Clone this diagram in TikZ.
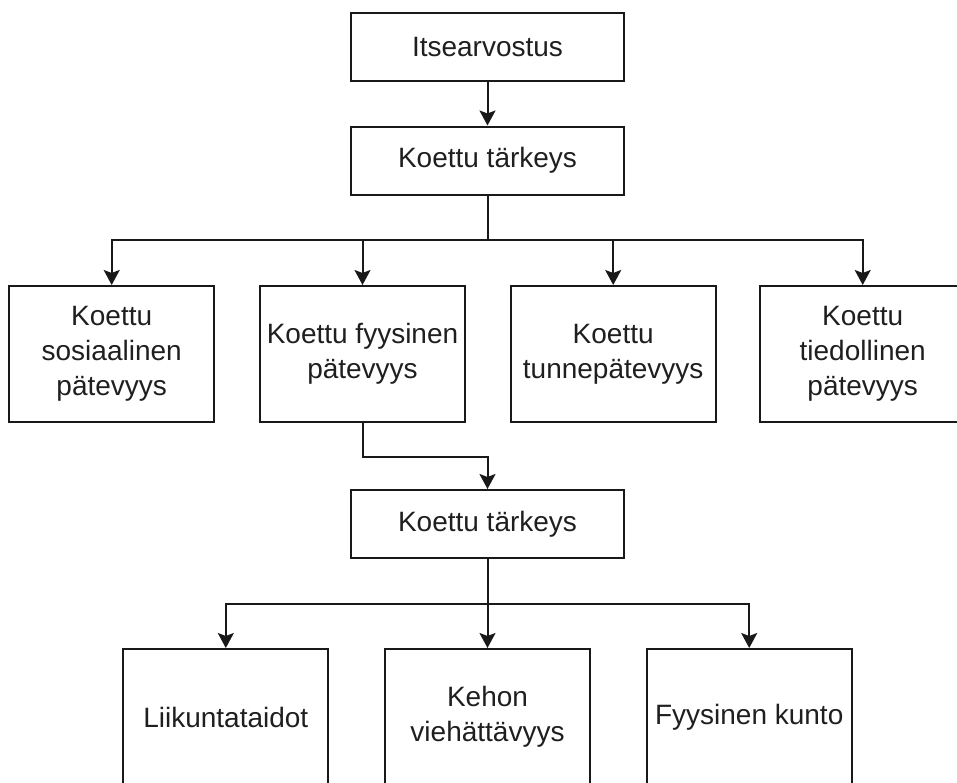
\documentclass[tikz,border=0pt]{standalone}
\usepackage{fontspec}
\setmainfont{Liberation Sans}
\usetikzlibrary{arrows.meta}
\begin{document}
\begin{tikzpicture}[x=1pt,y=-1pt,
 box/.style={draw=black!90,line width=2pt,minimum width=205pt,minimum height=136pt,align=center,inner sep=0pt,font=\fontsize{28}{35}\selectfont,text=black!88},
 topbox/.style={box,minimum width=273pt,minimum height=68pt},
 arr/.style={draw=black!90,line width=2pt,-{Stealth[length=15pt,width=16pt,inset=3pt]}},
 ln/.style={draw=black!90,line width=2pt}]
\useasboundingbox (0,0) rectangle (957,782);
\node[topbox] (self) at (487.5,47) {Itsearvostus};
\node[topbox] (imp1) at (487.5,160.5) {Koettu tärkeys};
\node[box] (soc) at (111.7,354) {Koettu\\sosiaalinen\\pätevyys};
\node[box] (phys) at (362.5,354) {Koettu fyysinen\\pätevyys};
\node[box] (emo) at (613.2,354) {Koettu\\tunnepätevyys};
\node[box] (cog) at (862.7,354) {Koettu\\tiedollinen\\pätevyys};
\node[topbox] (imp2) at (487.5,524) {Koettu tärkeys};
\node[box] (motor) at (225.8,717) {Liikuntataidot};
\node[box] (body) at (487.5,717) {Kehon\\viehättävyys};
\node[box] (fit) at (749.2,717) {Fyysinen kunto};
\coordinate (bus1) at (487.5,240);
\coordinate (bus2) at (487.5,604);
\draw[arr] (self) -- (imp1);
\draw[ln] (imp1.south) -- (bus1);
\foreach \n in {soc,phys,emo,cog} \draw[arr] (bus1) -| (\n.north);
\draw[arr] (phys.south) -- ++(0,34) -| (imp2.north);
\draw[ln] (imp2.south) -- (bus2);
\foreach \n in {motor,body,fit} \draw[arr] (bus2) -| (\n.north);
\end{tikzpicture}
\end{document}
